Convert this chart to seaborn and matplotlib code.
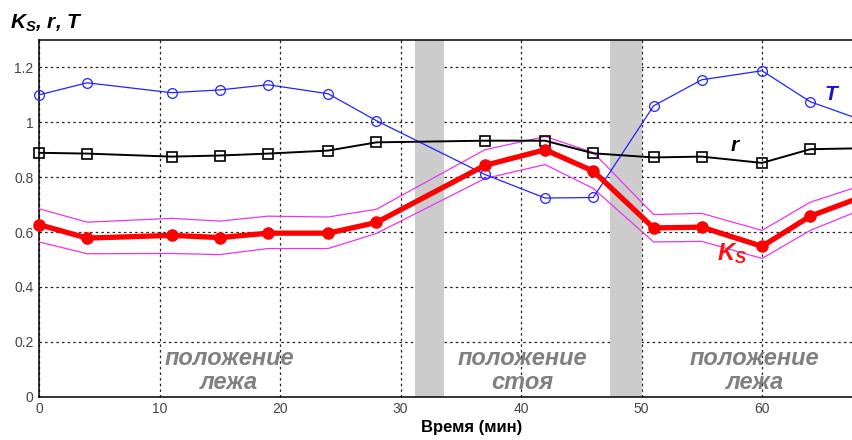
import matplotlib
matplotlib.use("Agg")
import matplotlib.pyplot as plt
import seaborn as sns
import pandas as pd

# Measurement times (minutes)
time_min = [0, 4, 11, 15, 19, 24, 28, 37, 42, 46, 51, 55, 60, 64, 69]

# Series
T_vals = [1.10, 1.144, 1.108, 1.118, 1.137, 1.104, 1.006, 0.81, 0.724, 0.726,
          1.06, 1.155, 1.188, 1.075, 0.997]
r_vals = [0.889, 0.886, 0.875, 0.879, 0.886, 0.897, 0.927, 0.933, 0.933, 0.887,
          0.872, 0.875, 0.852, 0.902, 0.906]
ks_vals = [0.627, 0.578, 0.588, 0.580, 0.596, 0.596, 0.635, 0.843, 0.900, 0.822,
           0.615, 0.618, 0.548, 0.658, 0.740]
ks_upper = [0.685, 0.636, 0.650, 0.640, 0.658, 0.655, 0.683, 0.900, 0.948, 0.890,
            0.664, 0.668, 0.606, 0.709, 0.780]
ks_lower = [0.564, 0.521, 0.522, 0.518, 0.540, 0.540, 0.595, 0.795, 0.846, 0.759,
            0.564, 0.566, 0.504, 0.606, 0.695]

# Posture transition intervals (minutes)
transitions = [(31.2, 33.6), (47.4, 50.0)]

x_ticks = [0, 10, 20, 30, 40, 50, 60]
y_ticks = [0, 0.2, 0.4, 0.6, 0.8, 1.0, 1.2]
y_tick_labels = ["0", "0.2", "0.4", "0.6", "0.8", "1", "1.2"]

df = pd.DataFrame({"t": time_min, "T": T_vals, "r": r_vals, "Ks": ks_vals,
                   "up": ks_upper, "lo": ks_lower})

sns.set_style("white")
plt.rcParams["font.family"] = ["Liberation Sans", "DejaVu Sans"]
plt.rcParams["mathtext.fontset"] = "custom"
plt.rcParams["mathtext.it"] = "Liberation Sans:bold:italic"
plt.rcParams["mathtext.rm"] = "Liberation Sans:bold:italic"
plt.rcParams["mathtext.bf"] = "Liberation Sans:bold:italic"

fig = plt.figure(figsize=(8.53, 4.40), dpi=100)
ax = fig.add_axes([39 / 853, 1 - 396.7 / 440, 814 / 853, (396.7 - 40) / 440])

ax.set_xlim(0, 67.55)
ax.set_ylim(0, 1.3)

# dotted grid
ax.set_xticks(x_ticks)
ax.set_yticks(y_ticks)
ax.set_yticklabels(y_tick_labels)
ax.grid(True, color="#222222", linestyle=(0, (2, 2.5)), linewidth=0.9)
ax.set_axisbelow(True)

for a, b in transitions:
    ax.axvspan(a, b, color="#cccccc", zorder=1, linewidth=0)

# confidence band of Ks
sns.lineplot(data=df, x="t", y="up", ax=ax, color="#ee33ee", linewidth=0.9,
             zorder=3, clip_on=False)
sns.lineplot(data=df, x="t", y="lo", ax=ax, color="#ee33ee", linewidth=0.9,
             zorder=3, clip_on=False)

sns.lineplot(data=df, x="t", y="T", ax=ax, color="#2222ff", linewidth=0.9,
             marker="o", markersize=7, markerfacecolor="none",
             markeredgecolor="#2222ff", markeredgewidth=0.9, zorder=4,
             clip_on=False)
sns.lineplot(data=df, x="t", y="r", ax=ax, color="black", linewidth=1.4,
             marker="s", markersize=7, markerfacecolor="none",
             markeredgecolor="black", markeredgewidth=1.2, zorder=5,
             clip_on=False)
sns.lineplot(data=df, x="t", y="Ks", ax=ax, color="#ff0000", linewidth=3.8,
             marker="o", markersize=8, markerfacecolor="#ff0000",
             markeredgecolor="#ff0000", markeredgewidth=1, zorder=6,
             clip_on=False)

# series labels
ax.text(65.8, 1.10, r"$T$", color="#1515cc", fontsize=15, ha="center", va="center")
ax.text(57.8, 0.915, r"$r$", color="black", fontsize=15, ha="center", va="center")
ax.text(57.5, 0.52, r"$K_S$", color="#ff1010", fontsize=17, ha="center", va="center")

# posture annotations
posture_kw = dict(color="#808080", fontsize=17, fontstyle="italic",
                  fontweight="bold", ha="center", va="center", linespacing=1.05)
ax.text(15.8, 0.094, "положение\nлежа", **posture_kw)
ax.text(40.1, 0.094, "положение\nстоя", **posture_kw)
ax.text(59.4, 0.094, "положение\nлежа", **posture_kw)

ax.set_xlabel("Время (мин)", fontsize=12, fontweight="bold", color="black")
ax.xaxis.set_label_coords(0.531, -0.065)
ax.set_ylabel("")

fig.text(10 / 853, 1 - 29 / 440, r"$K_S$, $r$, $T$", fontsize=15, color="black",
         fontweight="bold", fontstyle="italic", ha="left", va="baseline")

for side in ["left", "bottom", "top"]:
    ax.spines[side].set_color("black")
    ax.spines[side].set_linewidth(1.1)
ax.spines["right"].set_visible(False)

ax.tick_params(axis="both", direction="in", length=4, width=0.9, color="black",
               labelsize=10, labelcolor="#444444", pad=4)

fig.savefig("out.png", dpi=100)
